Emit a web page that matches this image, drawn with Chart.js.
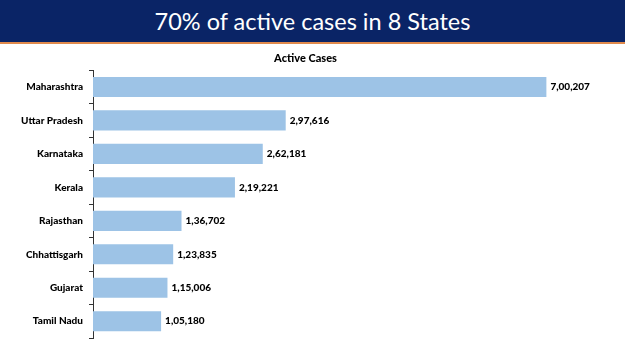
<!DOCTYPE html>
<html>
<head>
<meta charset="utf-8">
<script src="https://cdn.jsdelivr.net/npm/chart.js@4"></script>
<style>
  body { margin: 0; background: #fff; }
  #wrap { position: relative; width: 625px; height: 351px; }
  #banner {
    position: absolute; left: 0; top: 0; width: 625px; height: 42px;
    background: #0a2466; border-bottom: 2px solid #e08a4c;
    color: #fff; font-family: Lato, "Open Sans", sans-serif; font-size: 23.5px;
    text-align: center; line-height: 42px; z-index: 2;
  }
  canvas { position: absolute; left: 0; top: 0; }
</style>
</head>
<body>
<div id="wrap">
  <div id="banner">70% of active cases in 8 States</div>
  <canvas id="myChart" width="625" height="351"></canvas>
</div>
<script>
const states = ['Maharashtra', 'Uttar Pradesh', 'Karnataka', 'Kerala', 'Rajasthan', 'Chhattisgarh', 'Gujarat', 'Tamil Nadu'];
const activeCases = [700207, 297616, 262181, 219221, 136702, 123835, 115006, 105180];

// indian digit grouping, e.g. 7,00,207
function formatIN(n) {
    const s = String(n);
    if (s.length <= 3) return s;
    let last3 = s.slice(-3);
    let rest = s.slice(0, -3);
    rest = rest.replace(/\B(?=(\d{2})+(?!\d))/g, ',');
    return rest + ',' + last3;
}

const valueLabels = {
    id: 'valueLabels',
    afterDatasetsDraw(chart) {
        const ctx = chart.ctx;
        const meta = chart.getDatasetMeta(0);
        ctx.save();
        ctx.font = '900 10px Lato, "Open Sans", sans-serif';
        ctx.fillStyle = '#000';
        ctx.textAlign = 'left';
        ctx.textBaseline = 'middle';
        meta.data.forEach((bar, i) => {
            ctx.fillText(formatIN(chart.data.datasets[0].data[i]), bar.x + 4, bar.y);
        });
        ctx.restore();
    }
};

function generateChart(target) {
    return new Chart(target, {
        type: 'bar',
        data: {
            labels: states,
            datasets: [{
                label: 'Active Cases',
                data: activeCases,
                backgroundColor: '#9dc3e6',
                barPercentage: 0.6,
                categoryPercentage: 1
            }]
        },
        options: {
            indexAxis: 'y',
            responsive: false,
            animation: false,
            layout: { padding: { top: 52, bottom: 13, left: 0, right: 14 } },
            plugins: {
                legend: { display: false },
                tooltip: { enabled: false },
                title: {
                    display: true,
                    text: 'Active Cases',
                    color: '#000',
                    font: { family: 'Lato, "Open Sans", sans-serif', size: 11, weight: '900' },
                    padding: { top: 0, bottom: 5 }
                }
            },
            scales: {
                x: { display: false, min: 0, max: 800000 },
                y: {
                    afterFit(scale) { scale.width = 93; },
                    border: { display: true, color: '#333', width: 1 },
                    grid: { display: true, drawOnChartArea: false, drawTicks: true, tickLength: 4, color: '#333', offset: true },
                    ticks: {
                        color: '#000',
                        padding: 6,
                        font: { family: 'Lato, "Open Sans", sans-serif', size: 10, weight: '900' }
                    }
                }
            }
        },
        plugins: [valueLabels]
    });
}

document.addEventListener('DOMContentLoaded', () => generateChart(document.querySelector('#myChart')));
</script>
</body>
</html>
